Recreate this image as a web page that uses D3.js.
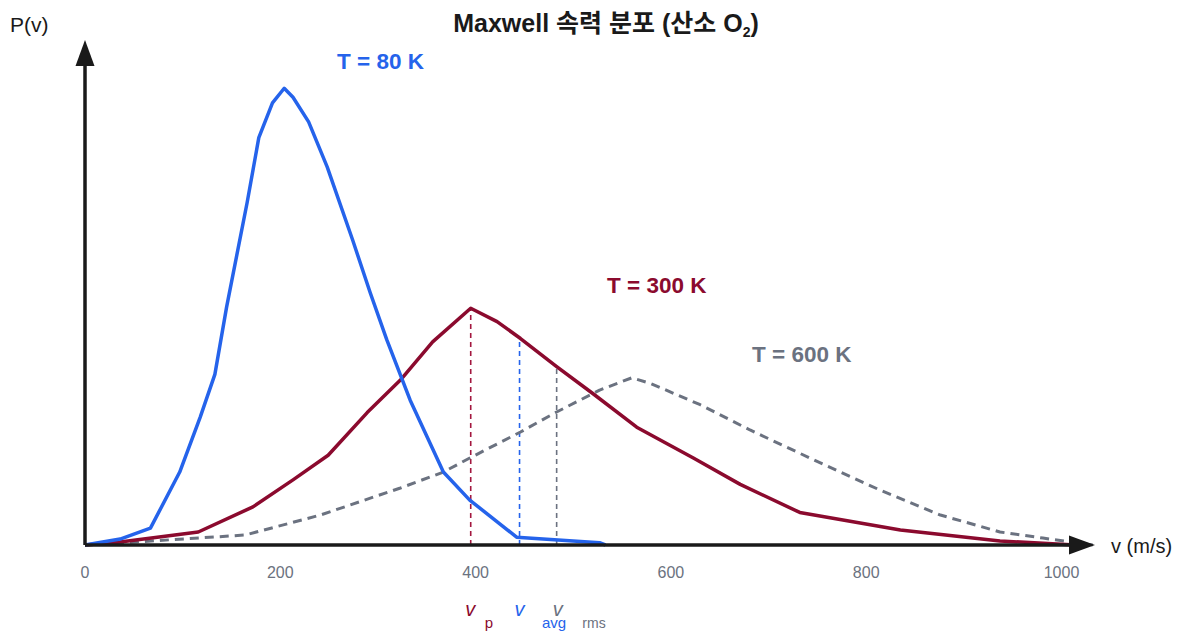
<!DOCTYPE html>
<html><head><meta charset="utf-8">
<script src="https://cdn.jsdelivr.net/npm/d3@7"></script>
<style>
html,body{margin:0;padding:0;background:#fff;}
svg{display:block;font-family:"Liberation Sans",Arial,"Noto Sans CJK KR",sans-serif;}
</style></head>
<body>
<script>
// speeds (m/s) and P(v) values (arbitrary units, 1e-3 s/m)
const v80 = [0, 36, 67, 97, 118, 133, 145, 166, 178, 192, 204, 213, 229, 248, 274, 292, 309, 333, 367, 394, 442, 527, 533];
const p80 = [0, 0.053, 0.15, 0.65, 1.14, 1.52, 2.12, 3.05, 3.63, 3.94, 4.07, 3.99, 3.77, 3.37, 2.72, 2.25, 1.83, 1.29, 0.65, 0.40, 0.07, 0.02, 0];
const v300 = [0, 36, 116, 172, 213, 249, 289, 323, 356, 395, 422, 446, 483, 520, 565, 623, 671, 732, 835, 937, 1014];
const p300 = [0, 0.027, 0.116, 0.34, 0.58, 0.80, 1.18, 1.47, 1.81, 2.11, 1.99, 1.84, 1.59, 1.35, 1.05, 0.775, 0.54, 0.29, 0.134, 0.036, 0];
const v600 = [0, 36, 164, 241, 323, 367, 394, 446, 483, 527, 560, 579, 630, 681, 746, 814, 876, 937, 981, 1032];
const p600 = [0, 0.018, 0.089, 0.267, 0.508, 0.65, 0.775, 1.007, 1.185, 1.38, 1.49, 1.44, 1.25, 1.025, 0.76, 0.49, 0.267, 0.116, 0.062, 0];
const markerNames = ["p", "avg", "rms"];
const markerV = [395, 445, 483];
const markerP = [2.11, 1.84, 1.59];
const xTicks = [0, 200, 400, 600, 800, 1000];
const seriesLabels = ["T = 80 K", "T = 300 K", "T = 600 K"];

const W = 1191, H = 636;
const svg = d3.select("body").append("svg").attr("width", W).attr("height", H);
const x = d3.scaleLinear().domain([0, 1000]).range([85, 1061.5]);
const y = d3.scaleLinear().domain([0, 4.5]).range([545, 40]);

const BLUE = "#2563eb", RED = "#8b0a2e", GRAY = "#6b7280", INK = "#1a1a1a";

// title
const title = svg.append("text").attr("x", 606).attr("y", 32).attr("text-anchor", "middle")
  .attr("font-size", 25).attr("font-weight", "bold").attr("fill", INK);
title.append("tspan").text("Maxwell 속력 분포 (산소 O");
title.append("tspan").attr("font-size", 14).attr("dy", 5).text("2");
title.append("tspan").attr("dy", -5).text(")");

// marker dashed verticals
const mColors = ["#a3173f", BLUE, GRAY];
markerV.forEach((mv, i) => {
  svg.append("line").attr("x1", x(mv)).attr("x2", x(mv)).attr("y1", y(0)).attr("y2", y(markerP[i]))
    .attr("stroke", mColors[i]).attr("stroke-width", 1.6).attr("stroke-dasharray", "5,4");
});

// curves
const line = d3.line().x(d => x(d[0])).y(d => y(d[1])).curve(d3.curveLinear);
svg.append("path").datum(d3.zip(v600, p600)).attr("d", line).attr("fill", "none")
  .attr("stroke", GRAY).attr("stroke-width", 3).attr("stroke-dasharray", "9,6").attr("stroke-linejoin", "round");
svg.append("path").datum(d3.zip(v300, p300)).attr("d", line).attr("fill", "none")
  .attr("stroke", RED).attr("stroke-width", 3.5).attr("stroke-linejoin", "round");
svg.append("path").datum(d3.zip(v80, p80)).attr("d", line).attr("fill", "none")
  .attr("stroke", BLUE).attr("stroke-width", 3.5).attr("stroke-linejoin", "round");

// axes with arrows
svg.append("line").attr("x1", x(0)).attr("x2", x(0)).attr("y1", y(0)).attr("y2", 62)
  .attr("stroke", INK).attr("stroke-width", 3.5);
svg.append("path").attr("d", `M${x(0)},40 L${x(0) - 9.5},66 L${x(0) + 9.5},66 Z`).attr("fill", INK);
svg.append("line").attr("x1", x(0)).attr("x2", 1072).attr("y1", y(0)).attr("y2", y(0))
  .attr("stroke", INK).attr("stroke-width", 3.5);
svg.append("path").attr("d", `M1095,${y(0)} L1069,${y(0) - 9.5} L1069,${y(0) + 9.5} Z`).attr("fill", INK);

// tick labels
svg.selectAll(".tick").data(xTicks).enter().append("text")
  .attr("x", d => x(d)).attr("y", 578).attr("text-anchor", "middle")
  .attr("font-size", 16).attr("fill", GRAY).text(d => d);

// axis labels
svg.append("text").attr("x", 10).attr("y", 32).attr("font-size", 21).attr("fill", INK).text("P(v)");
svg.append("text").attr("x", 1111).attr("y", 553).attr("font-size", 20).attr("fill", INK).text("v (m/s)");

// series labels
const labPos = [[337, 69, BLUE], [607, 293, RED], [752, 362, GRAY]];
seriesLabels.forEach((t, i) => {
  svg.append("text").attr("x", labPos[i][0]).attr("y", labPos[i][1]).attr("font-size", 22.5)
    .attr("font-weight", "bold").attr("fill", labPos[i][2]).text(t);
});

// marker labels
const subColors = [RED, BLUE, GRAY];
const vX = [x(markerV[0]) - 0.5, x(markerV[1]), x(markerV[2]) + 1];
const subX = [489, 554, 594];
const subSize = [15, 15, 14];
markerV.forEach((mv, i) => {
  svg.append("text").attr("x", vX[i]).attr("y", 616).attr("text-anchor", "middle")
    .attr("font-size", 20).attr("font-style", "italic").attr("fill", subColors[i]).text("v");
  svg.append("text").attr("x", subX[i]).attr("y", 628).attr("text-anchor", "middle")
    .attr("font-size", subSize[i]).attr("fill", subColors[i]).text(markerNames[i]);
});
</script>
</body></html>
